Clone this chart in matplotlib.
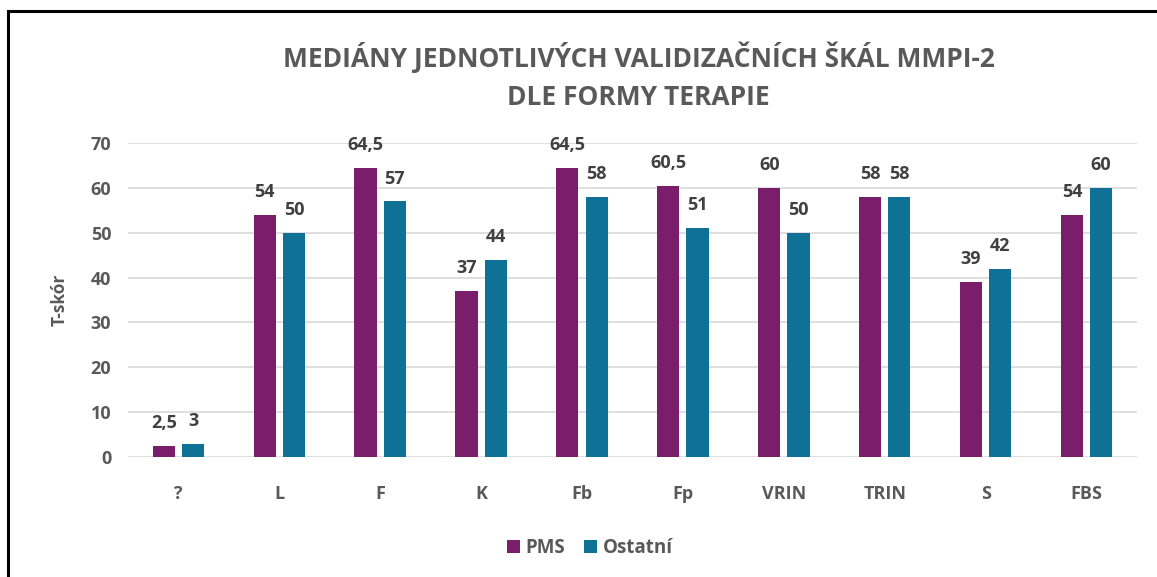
import matplotlib.pyplot as plt
import numpy as np
from matplotlib.patches import Rectangle

plt.rcParams['font.family'] = ['Open Sans', 'DejaVu Sans']

scales = ['?', 'L', 'F', 'K', 'Fb', 'Fp', 'VRIN', 'TRIN', 'S', 'FBS']
pms = [2.5, 54, 64.5, 37, 64.5, 60.5, 60, 58, 39, 54]
ostatni = [3, 50, 57, 44, 58, 51, 50, 58, 42, 60]

PURPLE = '#7A1E6C'
TEAL = '#0F7196'
GREY = '#595959'

fig = plt.figure(figsize=(11.57, 5.77), dpi=100)
ax = fig.add_axes([0.1106, 0.208, 0.8721, 0.544])

x = np.arange(len(scales))
w = 0.22
b1 = ax.bar(x - 0.145, pms, w, color=PURPLE, label='PMS', zorder=3)
b2 = ax.bar(x + 0.145, ostatni, w, color=TEAL, label='Ostatní', zorder=3)

def fmt(v):
    return ('%g' % v).replace('.', ',')

for bars, vals in ((b1, pms), (b2, ostatni)):
    for r, v in zip(bars, vals):
        ax.annotate(fmt(v), (r.get_x() + r.get_width() / 2, v), xytext=(0, 10),
                    textcoords='offset points', ha='center', va='bottom',
                    fontsize=13, fontweight='bold', color='#404040')

ax.set_xlim(-0.5, len(scales) - 0.5)
ax.set_ylim(0, 70)
ax.set_yticks(range(0, 71, 10))
ax.set_xticks(x)
ax.set_xticklabels(scales)
ax.yaxis.grid(True, color='#D9D9D9', lw=1.2, zorder=0)
for s in ax.spines.values():
    s.set_visible(False)
ax.tick_params(length=0, labelsize=13, labelcolor=GREY, pad=12)
ax.tick_params(axis='x', pad=20)
for t in ax.get_xticklabels() + ax.get_yticklabels():
    t.set_fontweight('bold')
ax.set_ylabel('T-skór', fontsize=12.5, fontweight='bold', color=GREY, labelpad=16)

fig.text(0.552, 0.868, 'MEDIÁNY JEDNOTLIVÝCH VALIDIZAČNÍCH ŠKÁL MMPI-2\nDLE FORMY TERAPIE',
         ha='center', va='center', fontsize=19, fontweight='bold', color=GREY,
         linespacing=1.5)

leg = fig.legend(loc='center', bbox_to_anchor=(0.51, 0.05), ncol=2, frameon=False,
                 fontsize=13.5, handlelength=0.7, handleheight=0.7, handletextpad=0.3,
                 columnspacing=1.0)
for t in leg.get_texts():
    t.set_color(GREY)
    t.set_fontweight('bold')

fig.patches.append(Rectangle((8 / 1157, -0.05), 1.1, 1.05 - 11 / 577, transform=fig.transFigure,
                             fill=False, edgecolor='black', lw=2.2, clip_on=False))

fig.savefig('out.png', dpi=100)
